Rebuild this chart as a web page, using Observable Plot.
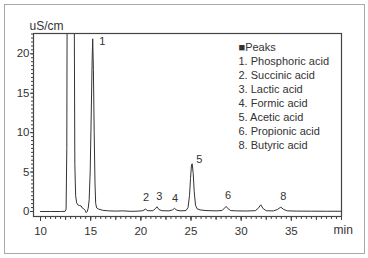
<!DOCTYPE html>
<html><head><meta charset="utf-8">
<script src="https://cdn.jsdelivr.net/npm/d3@7"></script>
<script src="https://cdn.jsdelivr.net/npm/@observablehq/plot@0.6"></script>
<style>
html,body{margin:0;padding:0;background:#fff;}
#wrap{position:relative;width:368px;height:258px;}
#border{position:absolute;left:4px;top:4px;width:359px;height:248px;border:1px solid #a8a8a8;pointer-events:none;}
</style></head><body>
<div id="wrap"><div id="border"></div></div>
<script>
const timeMin = [10.0, 11.0, 12.0, 12.45, 12.55, 12.62, 12.66, 13.35, 13.42, 13.5, 13.6, 13.75, 13.9, 14.05, 14.15, 14.3, 14.45, 14.55, 14.65, 14.75, 14.85, 14.95, 15.05, 15.15, 15.2, 15.27, 15.35, 15.43, 15.5, 15.6, 15.8, 16.2, 16.8, 17.5, 18.2, 19.0, 19.8, 20.2, 20.45, 20.7, 21.2, 21.45, 21.6, 21.8, 22.1, 22.8, 23.15, 23.35, 23.6, 24.0, 24.5, 24.7, 24.85, 24.95, 25.05, 25.12, 25.22, 25.32, 25.45, 25.6, 25.9, 26.5, 27.5, 28.1, 28.35, 28.5, 28.7, 28.95, 29.5, 30.5, 31.4, 31.7, 31.95, 32.2, 32.5, 33.2, 33.6, 33.95, 34.25, 34.6, 35.5, 37.0, 38.5, 40.0];
const signal = [0.0, 0.0, 0.0, 0.02, 0.3, 8, 30, 30, 6, 2.0, 1.1, 0.8, 0.75, 0.7, 0.45, 0.35, 0.15, -0.15, 0.0, 0.4, 1.5, 5, 12, 19.5, 21.9, 18, 10, 3.5, 1.0, 0.45, 0.3, 0.15, 0.08, 0.05, 0.08, 0.02, 0.05, 0.1, 0.3, 0.1, 0.1, 0.35, 0.6, 0.25, 0.1, 0.08, 0.2, 0.4, 0.15, 0.08, 0.12, 0.5, 2.0, 4.2, 5.9, 6.05, 4.8, 2.5, 0.8, 0.35, 0.2, 0.12, 0.08, 0.12, 0.45, 0.65, 0.35, 0.12, 0.08, 0.06, 0.1, 0.4, 0.85, 0.35, 0.1, 0.07, 0.25, 0.55, 0.25, 0.08, 0.05, 0.04, 0.03, 0.03];
const peakLabels = ["1", "2", "3", "4", "5", "6", "8"];
const peakLabelTime = [16.15, 20.53, 21.83, 23.4, 25.83, 28.7, 34.2];
const peakLabelSignal = [21.6, 1.81, 1.86, 1.61, 6.6, 1.99, 1.86];
const legendLines = ["\u25A0Peaks", "1. Phosphoric acid", "2. Succinic acid", "3. Lactic acid", "4. Formic acid", "5. Acetic acid", "6. Propionic acid", "8. Butyric acid"];
const xTickLabels = [10, 15, 20, 25, 30, 35];
const yTickLabels = [0, 5, 10, 15, 20];
const yUnit = "uS/cm";
const xUnit = "min";

const trace = timeMin.map((t, i) => ({t, v: signal[i]}));
const peaks = peakLabels.map((l, i) => ({l, t: peakLabelTime[i], v: peakLabelSignal[i]}));
const font = "'Liberation Sans', Arial, Helvetica, sans-serif";
const ink = "#333";

const chart = Plot.plot({
  width: 368, height: 258,
  marginLeft: 33, marginRight: 27, marginTop: 33, marginBottom: 42,
  style: {fontFamily: font, fontSize: "11px", background: "transparent", color: ink},
  x: {domain: [9.3, 40], label: null},
  y: {domain: [-0.634, 22.575], label: null},
  marks: [
    Plot.line(trace, {x: "t", y: "v", stroke: ink, strokeWidth: 1, clip: true}),
    Plot.axisX(d3.range(10, 40.01, 0.5), {tickSize: 3, tickFormat: () => "", stroke: "#444", label: null}),
    Plot.axisX(d3.range(10, 40.01, 2.5), {tickSize: 4, tickFormat: () => "", stroke: "#444", label: null}),
    Plot.axisX(xTickLabels, {tickSize: 5, tickPadding: 5, fontSize: 11.5, stroke: "#444", label: null}),
    Plot.axisY(d3.range(0, 22.51, 0.5), {tickSize: 2, tickFormat: () => "", stroke: "#444", label: null}),
    Plot.axisY(yTickLabels, {tickSize: 3, tickPadding: 1, fontSize: 11.5, stroke: "#444", label: null}),
    Plot.frame({stroke: "#444", strokeWidth: 1.2}),
    Plot.text(peaks, {x: "t", y: "v", text: "l", fontSize: 11, fill: ink}),
    Plot.text([legendLines.join("\n")], {text: d => d, frameAnchor: "top-left", dx: 205, dy: 8, lineAnchor: "top", lineHeight: 1.27, textAnchor: "start", fontSize: 11, fill: ink}),
    Plot.text([yUnit], {text: d => d, frameAnchor: "top-left", dx: -4, dy: -7.5, textAnchor: "start", lineAnchor: "middle", fontSize: 12, fill: ink}),
    Plot.text([xUnit], {text: d => d, frameAnchor: "bottom-right", dx: -8, dy: 14, textAnchor: "start", lineAnchor: "middle", fontSize: 12, fill: ink})
  ]
});
document.getElementById("wrap").appendChild(chart);
chart.style.position = "absolute";
chart.style.left = "0px";
chart.style.top = "0px";
</script>
</body></html>
